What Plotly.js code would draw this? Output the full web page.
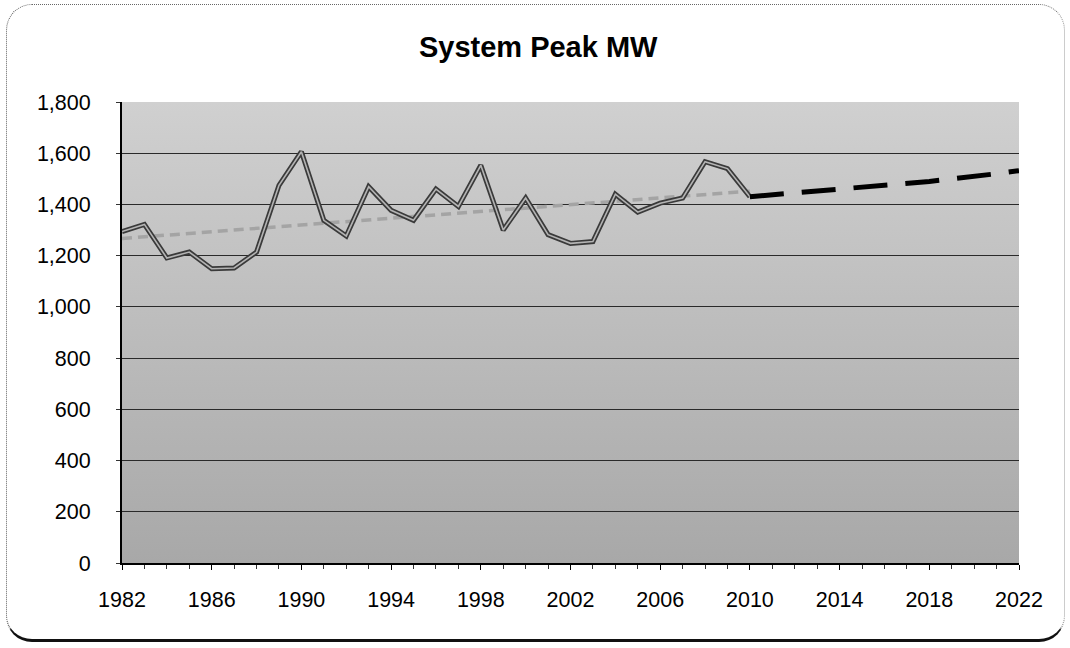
<!DOCTYPE html>
<html>
<head>
<meta charset="utf-8">
<script src="https://cdn.plot.ly/plotly-3.0.1.min.js"></script>
<style>
  html, body { margin: 0; padding: 0; background: #ffffff; }
  #wrap { position: relative; width: 1070px; height: 648px; }
  #frame {
    position: absolute; left: 6px; top: 4px; width: 1059px; height: 638px;
    border-top: 1px dotted #666; border-left: 1px dotted #666;
    border-right: 1px dotted #999; border-bottom: 3px solid #111;
    border-radius: 26px; box-sizing: border-box; pointer-events: none; z-index: 2;
  }
  #chart { position: absolute; left: 0; top: 0; width: 1070px; height: 648px; }
</style>
</head>
<body>
<div id="wrap">
  <div id="chart"></div>
  <div id="frame"></div>
</div>
<script>
// Actual system peak (MW)
const actualYears = [1982,1983,1984,1985,1986,1987,1988,1989,1990,1991,1992,1993,1994,1995,1996,1997,1998,1999,2000,2001,2002,2003,2004,2005,2006,2007,2008,2009,2010];
const actualPeak  = [1294,1322,1191,1214,1149,1152,1214,1475,1606,1338,1277,1469,1377,1338,1460,1392,1553,1300,1425,1282,1248,1255,1440,1370,1405,1425,1567,1540,1430];

// Historical trend line
const trendYears = [1982, 2010];
const trendPeak  = [1267, 1452];

// Forecast
const forecastYears = [2010,2011,2012,2013,2014,2015,2016,2017,2018,2019,2020,2021,2022];
const forecastPeak  = [1430,1437,1445,1455,1462,1468,1474,1480,1490,1500,1508,1520,1532];

const yTicks = [0,200,400,600,800,1000,1200,1400,1600,1800];
const xTicks = [1982,1986,1990,1994,1998,2002,2006,2010,2014,2018,2022];

const font = 'Liberation Sans, Arial, sans-serif';

const traces = [
  { x: trendYears, y: trendPeak, mode: 'lines', type: 'scatter',
    line: { color: '#a4a4a4', width: 3.5, dash: '10px,6px' }, hoverinfo: 'skip' },
  { x: actualYears, y: actualPeak, mode: 'lines', type: 'scatter',
    line: { color: '#3a3a3a', width: 5 } },
  { x: actualYears, y: actualPeak, mode: 'lines', type: 'scatter',
    line: { color: '#b4b4b4', width: 1.6 } },
  { x: forecastYears, y: forecastPeak, mode: 'lines', type: 'scatter',
    line: { color: '#000000', width: 5, dash: '34px,18px' } }
];

const grad = 'data:image/svg+xml;utf8,' + encodeURIComponent(
  '<svg xmlns="http://www.w3.org/2000/svg" width="100" height="100" preserveAspectRatio="none">' +
  '<defs><linearGradient id="g" x1="0" y1="0" x2="0" y2="1">' +
  '<stop offset="0" stop-color="#d0d0d0"/><stop offset="1" stop-color="#a8a8a8"/>' +
  '</linearGradient></defs><rect width="100" height="100" fill="url(#g)"/></svg>');

const layout = {
  width: 1070, height: 648,
  margin: { l: 122, r: 51, t: 102, b: 85 },
  paper_bgcolor: 'rgba(0,0,0,0)',
  plot_bgcolor: 'rgba(0,0,0,0)',
  showlegend: false,
  font: { family: font, size: 21, color: '#000' },
  title: { text: '<b>System Peak MW</b>', x: 0.503, xanchor: 'center', y: 0.928, yanchor: 'middle',
           font: { family: font, size: 29, color: '#000' } },
  images: [{ source: grad, xref: 'paper', yref: 'paper', x: 0, y: 1, sizex: 1, sizey: 1,
             sizing: 'stretch', layer: 'below', xanchor: 'left', yanchor: 'top' }],
  xaxis: {
    range: [1982, 2022], tickmode: 'array', tickvals: xTicks, ticktext: xTicks.map(String),
    showgrid: false, zeroline: false, showline: true, linecolor: '#000', linewidth: 2,
    ticks: 'outside', ticklen: 5, tickcolor: '#000', ticklabelstandoff: 11,
    minor: { dtick: 1, tick0: 1982, ticks: 'outside', ticklen: 4, tickcolor: '#333', showgrid: false },
    tickfont: { family: font, size: 21.5, color: '#000' }, fixedrange: true
  },
  yaxis: {
    range: [0, 1800], tickmode: 'array', tickvals: yTicks, ticktext: yTicks.map(v => v.toLocaleString('en-US')),
    showgrid: true, gridcolor: '#2a2a2a', gridwidth: 1, zeroline: false,
    showline: true, linecolor: '#000', linewidth: 2,
    ticks: 'outside', ticklen: 4, tickcolor: '#333', ticklabelstandoff: 21,
    tickfont: { family: font, size: 21.5, color: '#000' }, fixedrange: true
  }
};

Plotly.newPlot('chart', traces, layout, { displayModeBar: false, staticPlot: true });
</script>
</body>
</html>
